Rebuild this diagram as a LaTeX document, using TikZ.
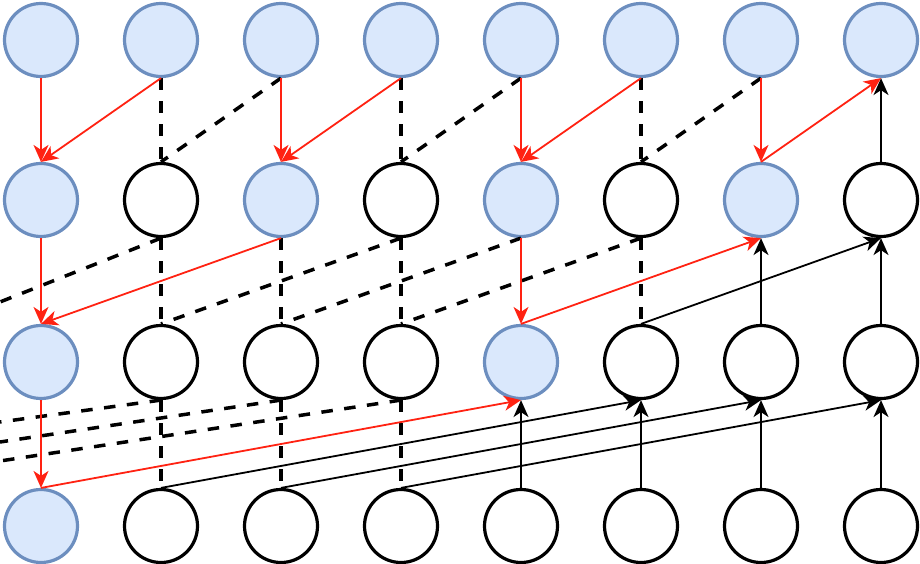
\documentclass[tikz,border=0pt]{standalone}
\usetikzlibrary{arrows.meta}
\definecolor{bfill}{HTML}{DAE8FC}
\definecolor{bstroke}{HTML}{6C8EBF}
\definecolor{myred}{HTML}{FF2212}
\tikzset{
  bnode/.style={circle, draw=bstroke, fill=bfill, line width=3.2pt, minimum size=73pt, inner sep=0pt},
  wnode/.style={circle, draw=black, fill=white, line width=3.2pt, minimum size=73pt, inner sep=0pt},
  redarr/.style={draw=myred, line width=1.8pt, -{Stealth[length=17pt,width=15pt,inset=5pt]}},
  blkarr/.style={draw=black, line width=1.8pt, -{Stealth[length=17pt,width=15pt,inset=5pt]}},
  dsh/.style={draw=black, line width=3.5pt, dash pattern=on 11.5pt off 11.5pt}
}
\begin{document}
\begin{tikzpicture}[x=1pt,y=-1pt]
\useasboundingbox (0,0) rectangle (920,564);
% row 0
\node[bnode] (n00) at (41,40) {};
\node[bnode] (n10) at (161,40) {};
\node[bnode] (n20) at (281,40) {};
\node[bnode] (n30) at (401,40) {};
\node[bnode] (n40) at (521,40) {};
\node[bnode] (n50) at (641,40) {};
\node[bnode] (n60) at (761,40) {};
\node[bnode] (n70) at (881,40) {};
% row 1
\node[bnode] (n01) at (41,200) {};
\node[wnode] (n11) at (161,200) {};
\node[bnode] (n21) at (281,200) {};
\node[wnode] (n31) at (401,200) {};
\node[bnode] (n41) at (521,200) {};
\node[wnode] (n51) at (641,200) {};
\node[bnode] (n61) at (761,200) {};
\node[wnode] (n71) at (881,200) {};
% row 2
\node[bnode] (n02) at (41,362) {};
\node[wnode] (n12) at (161,362) {};
\node[wnode] (n22) at (281,362) {};
\node[wnode] (n32) at (401,362) {};
\node[bnode] (n42) at (521,362) {};
\node[wnode] (n52) at (641,362) {};
\node[wnode] (n62) at (761,362) {};
\node[wnode] (n72) at (881,362) {};
% row 3
\node[bnode] (n03) at (41,526) {};
\node[wnode] (n13) at (161,526) {};
\node[wnode] (n23) at (281,526) {};
\node[wnode] (n33) at (401,526) {};
\node[wnode] (n43) at (521,526) {};
\node[wnode] (n53) at (641,526) {};
\node[wnode] (n63) at (761,526) {};
\node[wnode] (n73) at (881,526) {};
% free ends at the left edge
\coordinate (l1) at (0,302);
\coordinate (l2) at (0,422);
\coordinate (l3) at (0,442);
\coordinate (l4) at (0,461);
% ---- row 0 / row 1
\draw[dsh] (n10.south) -- (n11.north);
\draw[dsh] (n20.south) -- (n11.north);
\draw[dsh] (n30.south) -- (n31.north);
\draw[dsh] (n40.south) -- (n31.north);
\draw[dsh] (n50.south) -- (n51.north);
\draw[dsh] (n60.south) -- (n51.north);
\draw[redarr] (n00.south) -- (n01.north);
\draw[redarr] (n10.south) -- (n01.north);
\draw[redarr] (n20.south) -- (n21.north);
\draw[redarr] (n30.south) -- (n21.north);
\draw[redarr] (n40.south) -- (n41.north);
\draw[redarr] (n50.south) -- (n41.north);
\draw[redarr] (n60.south) -- (n61.north);
\draw[blkarr] (n71.north) -- (n70.south);
\draw[redarr] (n61.north) -- (n70.south);
% ---- row 1 / row 2
\draw[dsh] (n11.south) -- (l1);
\draw[dsh] (n11.south) -- (n12.north);
\draw[dsh] (n21.south) -- (n22.north);
\draw[dsh] (n31.south) -- (n12.north);
\draw[dsh] (n31.south) -- (n32.north);
\draw[dsh] (n41.south) -- (n22.north);
\draw[dsh] (n51.south) -- (n32.north);
\draw[dsh] (n51.south) -- (n52.north);
\draw[redarr] (n01.south) -- (n02.north);
\draw[redarr] (n21.south) -- (n02.north);
\draw[redarr] (n41.south) -- (n42.north);
\draw[blkarr] (n52.north) -- (n71.south);
\draw[blkarr] (n62.north) -- (n61.south);
\draw[blkarr] (n72.north) -- (n71.south);
\draw[redarr] (n42.north) -- (n61.south);
% ---- row 2 / row 3
\draw[dsh] (n12.south) -- (l2);
\draw[dsh] (n22.south) -- (l3);
\draw[dsh] (n32.south) -- (l4);
\draw[dsh] (n12.south) -- (n13.north);
\draw[dsh] (n22.south) -- (n23.north);
\draw[dsh] (n32.south) -- (n33.north);
\draw[redarr] (n02.south) -- (n03.north);
\draw[blkarr] (n13.north) -- (n52.south);
\draw[blkarr] (n23.north) -- (n62.south);
\draw[blkarr] (n33.north) -- (n72.south);
\draw[blkarr] (n43.north) -- (n42.south);
\draw[blkarr] (n53.north) -- (n52.south);
\draw[blkarr] (n63.north) -- (n62.south);
\draw[blkarr] (n73.north) -- (n72.south);
\draw[redarr] (n03.north) -- (n42.south);
\end{tikzpicture}
\end{document}
